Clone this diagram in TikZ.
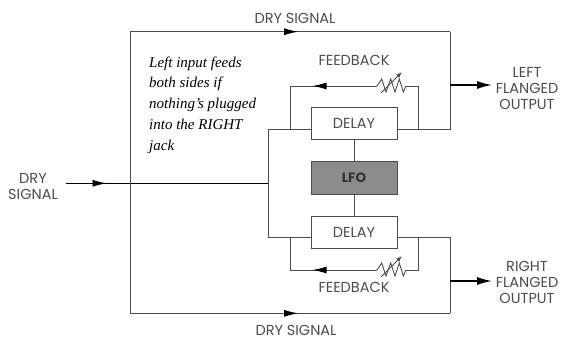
\documentclass[tikz,border=0pt]{standalone}
\usepackage{fontspec}
\setmainfont{Poppins}
\newfontfamily\notefont{Liberation Serif}
\usetikzlibrary{arrows.meta,calc,decorations.markings}

\definecolor{wiregray}{gray}{0.3}
\definecolor{lfogray}{gray}{0.55}
\definecolor{textgray}{gray}{0.3}

\begin{document}
\begin{tikzpicture}[x=1pt,y=-1pt,
    wire/.style={draw=wiregray,line width=0.9pt},
    box/.style={draw=wiregray,line width=0.9pt,fill=white,minimum width=86pt,minimum height=32.5pt,
        font=\fontsize{14.5}{14.5}\selectfont,text=textgray},
    lbl/.style={font=\fontsize{14.5}{16}\selectfont,text=textgray,align=center},
    arrowat/.style={postaction={decorate},decoration={markings,
        mark=at position #1 with {\arrow{Latex[length=14pt,width=7pt,color=black]}}}}
]
\useasboundingbox (0,0) rectangle (569,339);

% blocks
\node[box] (delayT) at (354,123.7) {DELAY};
\node[box,fill=lfogray,font=\fontsize{13.5}{13.5}\selectfont\bfseries,text=black!80] (lfo) at (354,178) {LFO};
\node[box] (delayB) at (354,232.2) {DELAY};

% junctions
\coordinate (in) at (66,183.3);
\coordinate (split) at (268.7,183.3);
\coordinate (dryL) at (130,183.3);
\coordinate (tl) at (130,31.7);
\coordinate (tr) at (450,31.7);
\coordinate (bl) at (130,313.3);
\coordinate (br) at (450,313.3);
\coordinate (inT) at ($(delayT.west)+(0,5.3)$);
\coordinate (outT) at ($(delayT.east)+(0,5.3)$);
\coordinate (inB) at ($(delayB.west)+(0,5.5)$);
\coordinate (outB) at ($(delayB.east)+(0,5.5)$);
\coordinate (tapT) at (450,85);
\coordinate (tapB) at (450,281);
\coordinate (endT) at (492,85);
\coordinate (endB) at (492,281);

% labels
\node[lbl] (dryIn) at (33,186.5) {DRY\\SIGNAL};
\node[lbl] (dryTop) at (295,18) {DRY SIGNAL};
\node[lbl] (dryBot) at (296,330) {DRY SIGNAL};
\node[lbl] (leftOut) at (527,88) {LEFT\\FLANGED\\OUTPUT};
\node[lbl] (rightOut) at (527,282) {RIGHT\\FLANGED\\OUTPUT};
\node[anchor=north west,inner sep=0pt,align=left,
    font=\notefont\itshape\fontsize{15}{20.9}\selectfont] (note) at (149,56.3)
    {Left input feeds\\both sides if\\nothing’s plugged\\into the RIGHT\\jack};

% dry signal paths
\draw[line width=0.9pt,arrowat=0.2] (in) -- (split);
\draw[wire] (split |- inT) -- (inT);
\draw[wire] (split |- inT) -- (split |- inB) -- (inB);
\draw[wire] (dryL) -- (tl);
\draw[wire] (dryL) -- (bl);
\draw[wire,arrowat=0.525] (tl) -- (tr);
\draw[wire,arrowat=0.525] (bl) -- (br);
\draw[wire] (tr) -- (tr |- outT) -- (outT);
\draw[wire] (br) -- (br |- outB) -- (outB);

\draw[wire] (delayT) -- (lfo);
\draw[wire] (lfo) -- (delayB);

% outputs
\draw[line width=1.4pt,-{Latex[length=15pt,width=8pt]}] (tapT) -- (endT);
\draw[line width=1.4pt,-{Latex[length=15pt,width=8pt]}] (tapB) -- (endB);

% feedback loops
\foreach \d/\fy/\ly in {T/86/60, B/270/287.7} {
    \coordinate (rA\d) at (377,\fy);
    \coordinate (rB\d) at (406,\fy);
    \coordinate (fL\d) at (290,\fy);
    \draw[wire] (418,0 |- out\d) -- (418,\fy) -- (rB\d);
    \draw[wire,line join=miter] (rB\d) -- (403.3,\fy+6) -- (399.3,\fy-7) -- (395,\fy+6)
        -- (390.7,\fy-7) -- (386,\fy+6) -- (381.7,\fy-7) -- (rA\d);
    \draw[wire,arrowat=0.74] (rA\d) -- (fL\d);
    \draw[wire] (fL\d) -- (290,0 |- in\d);
    \draw[wire,-{Latex[length=6pt,width=4.5pt]}] (381,\fy+7) -- (402,\fy-14);
    \node[lbl] (fb\d) at (354,\ly) {FEEDBACK};
}
\end{tikzpicture}
\end{document}
